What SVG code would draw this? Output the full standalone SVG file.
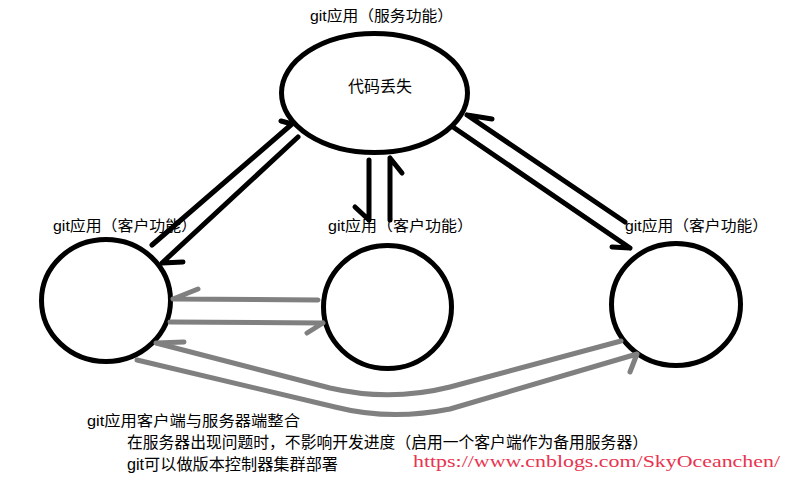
<svg xmlns="http://www.w3.org/2000/svg" width="793" height="478" viewBox="0 0 793 478">
<style>
.node{fill:none;stroke:#000;stroke-width:5}
.blk{fill:none;stroke:#000;stroke-width:5;stroke-linecap:round;stroke-linejoin:round}
.gry{fill:none;stroke:#808080;stroke-width:5;stroke-linecap:round;stroke-linejoin:round}
.lbl{font-family:"Liberation Sans","Noto Sans CJK SC",sans-serif;font-size:15px;fill:#000}
.note{font-family:"Liberation Sans","Noto Sans CJK SC",sans-serif;font-size:16px;fill:#000}
.url{font-family:"Liberation Serif",serif;font-size:17px;fill:#e8334f}
</style>
<rect width="793" height="478" fill="#fff"/>
<g id="server">
<ellipse class="node" cx="374.5" cy="93" rx="93" ry="59.5"/>
<text class="lbl" x="310" y="21" textLength="143" lengthAdjust="spacingAndGlyphs">git应用（服务功能）</text>
<text class="note" x="348" y="92" textLength="64" lengthAdjust="spacingAndGlyphs">代码丢失</text>
</g>
<g id="client-left">
<ellipse class="node" cx="106" cy="300.5" rx="64.5" ry="61"/>
<text class="lbl" x="53" y="231" textLength="144" lengthAdjust="spacingAndGlyphs">git应用（客户功能）</text>
</g>
<g id="client-middle">
<ellipse class="node" cx="387.5" cy="307" rx="64" ry="61.5"/>
<text class="lbl" x="328" y="231" textLength="145" lengthAdjust="spacingAndGlyphs">git应用（客户功能）</text>
</g>
<g id="client-right">
<ellipse class="node" cx="676" cy="304.5" rx="64.5" ry="61"/>
<text class="lbl" x="625" y="231" textLength="143" lengthAdjust="spacingAndGlyphs">git应用（客户功能）</text>
</g>
<g id="connectors">
<path class="blk" d="M152,245 L292,124 M292,124 L281,121"/>
<path class="blk" d="M298,137 L162,263 M162,263 L183,262"/>
<path class="blk" d="M369,160 L369,220 M369,220 L355,207"/>
<path class="blk" d="M390,220 L390,158 M390,158 L402,173"/>
<path class="blk" d="M625,222 L467,115 M467,115 L492,119"/>
<path class="blk" d="M453,127 L630,248 M630,248 L612,247"/>
<path class="gry" d="M318,300 L173,299 M173,299 L198,289"/>
<path class="gry" d="M170,322 L323,323 M323,323 L307,333"/>
<path class="gry" d="M621,341 L450,387 Q390,402 330,388 L156,343 M156,343 L184,342"/>
<path class="gry" d="M137,360 L335,407 Q390,421 450,409 L637,354 M637,354 L630,372"/>
</g>
<g id="notes">
<text class="lbl" x="87" y="426" textLength="213" lengthAdjust="spacingAndGlyphs">git应用客户端与服务器端整合</text>
<text class="note" x="127" y="448" textLength="521" lengthAdjust="spacingAndGlyphs">在服务器出现问题时，不影响开发进度（启用一个客户端作为备用服务器）</text>
<text class="note" x="127" y="470" textLength="211" lengthAdjust="spacingAndGlyphs">git可以做版本控制器集群部署</text>
<text class="url" x="413" y="467" textLength="367" lengthAdjust="spacingAndGlyphs">https://www.cnblogs.com/SkyOceanchen/</text>
</g>
</svg>
